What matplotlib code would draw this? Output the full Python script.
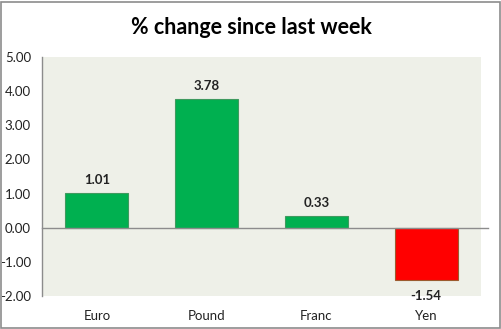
import matplotlib.pyplot as plt
from matplotlib.patches import Rectangle

# data
currencies = ["Euro", "Pound", "Franc", "Yen"]
changes = [1.01, 3.78, 0.33, -1.54]
yticks = [-2, -1, 0, 1, 2, 3, 4, 5]

plt.rcParams['font.family'] = ['Lato', 'DejaVu Sans']

fig = plt.figure(figsize=(5.02, 3.29), dpi=100)
W, H = 502, 329
ax = fig.add_axes([42 / W, 1 - 296 / H, 439 / W, 239 / H])
ax.set_facecolor("#EEF0E8")

colors = ["#00B050" if v >= 0 else "#FF0000" for v in changes]
edges = ["#3F9A5F" if v >= 0 else "#9C5A2E" for v in changes]
pos = range(len(currencies))
ax.bar(pos, changes, width=0.575, color=colors, edgecolor=edges, linewidth=0.8, zorder=3)

ax.set_xlim(-0.5, len(currencies) - 0.5)
ax.set_ylim(-2, 5)
ax.axhline(0, color="#8C8C8C", linewidth=1, zorder=4, xmax=1.015, clip_on=False)

for i, v in enumerate(changes):
    off = 0.38 if v >= 0 else -0.47
    ax.text(i, v + off, f"{v:.2f}", ha="center", va="center",
            fontsize=9.5, fontweight="bold", color="#222222", zorder=5, clip_on=False)

ax.set_yticks(yticks)
ax.set_yticklabels([f"{t:.2f}" for t in yticks], fontsize=9.5, color="#222222")
ax.set_xticks(list(pos))
ax.set_xticklabels(currencies, fontsize=9.5, color="#222222")
ax.tick_params(axis="y", length=0, pad=8)
ax.tick_params(axis="x", length=0, pad=10)

for s in ["top", "right", "bottom"]:
    ax.spines[s].set_visible(False)
ax.spines["left"].set_color("#8C8C8C")
ax.spines["left"].set_linewidth(1)

fig.text(0.5, 1 - 27 / H, "% change since last week", ha="center", va="center",
         fontsize=15.5, fontweight="bold", color="#000000")

fig.patches.append(Rectangle((1 / W, 1 / H), 1 - 3 / W, 1 - 3 / H, transform=fig.transFigure,
                             fill=False, edgecolor="#8C8C8C", linewidth=1.2))

fig.savefig("out.png", dpi=100)
